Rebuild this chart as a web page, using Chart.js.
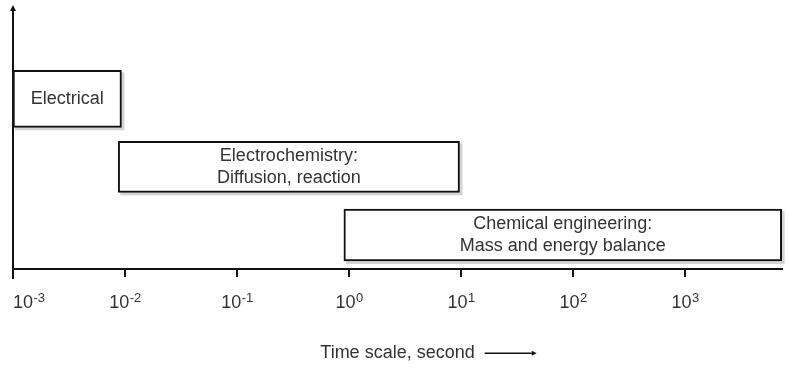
<!DOCTYPE html>
<html>
<head>
<meta charset="utf-8">
<script src="https://cdn.jsdelivr.net/npm/chart.js@4/dist/chart.umd.min.js"></script>
<style>
  html, body { margin: 0; padding: 0; background: #fff; }
  #wrap { width: 789px; height: 370px; }
</style>
</head>
<body>
<div id="wrap"><canvas id="c"></canvas></div>
<script>
// Time ranges (seconds) covered by each modelling discipline
const processNames = ['Electrical', 'Electrochemistry', 'Chemical engineering'];
const processLabels = [
  ['Electrical'],
  ['Electrochemistry:', 'Diffusion, reaction'],
  ['Chemical engineering:', 'Mass and energy balance']
];
const timeStart = [0.001, 0.0087, 0.9];
const timeEnd = [0.0093, 9.7, 7300];
const rowLevel = [2.5, 1.5, 0.5];
const tickExponents = [-3, -2, -1, 0, 1, 2, 3];
const axisTitle = 'Time scale, second';

const FONT = "'Liberation Sans', Arial, sans-serif";
const TEXT = '#333333';
const INK = '#111111';
const boxThickness = [57, 51, 52];

const datasets = processNames.map((name, i) => ({
  label: name,
  data: [{ x: [timeStart[i], timeEnd[i]], y: rowLevel[i] }],
  backgroundColor: '#ffffff',
  borderColor: INK,
  borderWidth: 2,
  borderSkipped: false,
  barThickness: boxThickness[i],
  grouped: false
}));

// soft drop shadow behind each box
const shadowPlugin = {
  id: 'boxShadow',
  beforeDatasetsDraw(chart) {
    const ctx = chart.ctx;
    ctx.save();
    ctx.fillStyle = '#d4d4d4';
    chart.data.datasets.forEach((ds, i) => {
      chart.getDatasetMeta(i).data.forEach(el => {
        const p = el.getProps(['x', 'y', 'base', 'height'], true);
        const l = Math.min(p.x, p.base), r = Math.max(p.x, p.base);
        ctx.fillRect(l + 2, p.y - p.height / 2 + 2, r - l + 1, p.height + 1);
      });
    });
    ctx.restore();
  }
};

// text inside each box, axis arrows and power-of-ten tick labels
const decorPlugin = {
  id: 'decor',
  afterDatasetsDraw(chart) {
    const ctx = chart.ctx;
    ctx.save();
    ctx.fillStyle = TEXT;
    ctx.font = `18px ${FONT}`;
    ctx.textAlign = 'center';
    ctx.textBaseline = 'middle';
    chart.data.datasets.forEach((ds, i) => {
      chart.getDatasetMeta(i).data.forEach(el => {
        const p = el.getProps(['x', 'y', 'base'], true);
        const cx = (p.x + p.base) / 2;
        const lines = processLabels[i];
        const lh = 22;
        lines.forEach((t, k) => {
          ctx.fillText(t, cx, p.y + (k - (lines.length - 1) / 2) * lh);
        });
      });
    });
    ctx.restore();
  },
  afterDraw(chart) {
    const ctx = chart.ctx;
    const area = chart.chartArea;
    const xs = chart.scales.x;
    ctx.save();

    // vertical axis with arrowhead
    ctx.strokeStyle = INK;
    ctx.fillStyle = INK;
    ctx.lineWidth = 2;
    ctx.beginPath();
    ctx.moveTo(area.left, area.top - 1);
    ctx.lineTo(area.left, area.bottom + 10);
    ctx.stroke();
    ctx.beginPath();
    ctx.moveTo(area.left, area.top - 6);
    ctx.lineTo(area.left - 3, area.top);
    ctx.lineTo(area.left + 3, area.top);
    ctx.closePath();
    ctx.fill();

    // tick labels 10^n
    ctx.fillStyle = TEXT;
    ctx.textBaseline = 'alphabetic';
    ctx.textAlign = 'left';
    const baseY = area.bottom + 39;
    xs.ticks.forEach(t => {
      const px = xs.getPixelForValue(t.value);
      const exp = String(Math.round(Math.log10(t.value)));
      ctx.font = `18px ${FONT}`;
      const w1 = ctx.measureText('10').width;
      ctx.font = `13px ${FONT}`;
      const w2 = ctx.measureText(exp).width;
      const total = w1 + w2;
      let x0 = px - total / 2;
      if (x0 < area.left) x0 = px;
      ctx.font = `18px ${FONT}`;
      ctx.fillText('10', x0, baseY);
      ctx.font = `13px ${FONT}`;
      ctx.fillText(exp, x0 + w1 + 0.5, baseY - 6);
    });

    // arrow after the axis title
    const tOpts = xs.options.title;
    ctx.font = `${tOpts.font.size}px ${FONT}`;
    const tw = ctx.measureText(axisTitle).width;
    const lh = tOpts.font.size * 1.2;
    const ty = xs.bottom - lh / 2 - tOpts.padding.bottom;
    const right = (xs.left + xs.right) / 2 + tw / 2;
    ctx.strokeStyle = INK;
    ctx.fillStyle = INK;
    ctx.lineWidth = 1.5;
    ctx.beginPath();
    ctx.moveTo(right + 10, ty);
    ctx.lineTo(right + 57, ty);
    ctx.stroke();
    ctx.beginPath();
    ctx.moveTo(right + 62, ty);
    ctx.lineTo(right + 57, ty - 2.5);
    ctx.lineTo(right + 57, ty + 2.5);
    ctx.closePath();
    ctx.fill();
    ctx.restore();
  }
};

new Chart(document.getElementById('c'), {
  type: 'bar',
  data: { datasets },
  options: {
    indexAxis: 'y',
    responsive: true,
    maintainAspectRatio: false,
    animation: false,
    layout: { padding: { top: 11, left: 13, right: 7, bottom: 0 } },
    plugins: { legend: { display: false }, tooltip: { enabled: false } },
    scales: {
      x: {
        type: 'logarithmic',
        min: 0.001,
        max: 7345,
        afterBuildTicks(scale) {
          scale.ticks = tickExponents.map(e => ({ value: Math.pow(10, e), major: true }));
        },
        afterFit(scale) { scale.height = 101; },
        ticks: { display: false },
        grid: {
          display: true,
          drawOnChartArea: false,
          drawTicks: true,
          tickLength: 8,
          color: INK,
          lineWidth: 2
        },
        border: { display: true, color: INK, width: 2 },
        title: {
          display: true,
          text: axisTitle,
          color: TEXT,
          font: { family: FONT, size: 18 },
          padding: { top: 0, bottom: 6 }
        }
      },
      y: {
        type: 'linear',
        min: 0,
        max: 3.79,
        offset: false,
        display: false
      }
    }
  },
  plugins: [shadowPlugin, decorPlugin]
});
</script>
</body>
</html>
